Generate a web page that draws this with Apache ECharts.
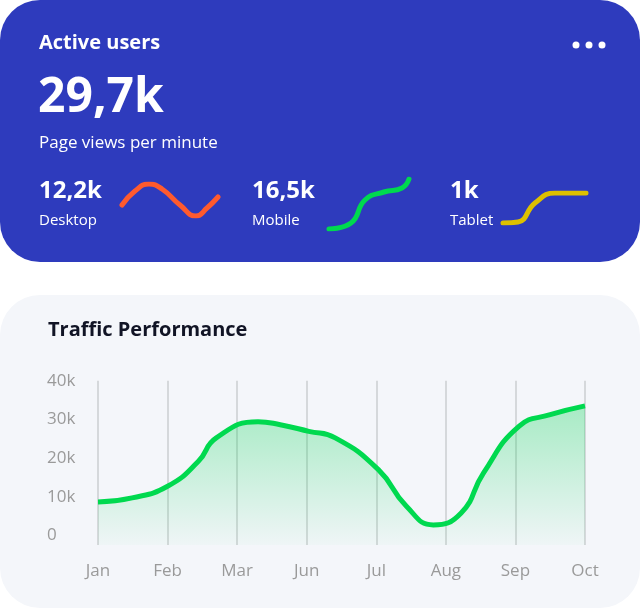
<!DOCTYPE html>
<html>
<head>
<meta charset="utf-8">
<script src="https://cdn.jsdelivr.net/npm/echarts@6/dist/echarts.min.js"></script>
<style>
  html, body { margin: 0; padding: 0; background: #fff; }
  #main { width: 640px; height: 608px; }
</style>
</head>
<body>
<div id="main"></div>
<script>
// month labels on the traffic chart
const months = ["Jan", "Feb", "Mar", "Jun", "Jul", "Aug", "Sep", "Oct"];

// traffic curve: [month index, value]
const traffic = [
  [0, 8600], [0.49, 9700], [1, 12700], [1.44, 19100], [1.7, 25200],
  [2.3, 29400], [2.62, 28600], [3.03, 26900], [3.41, 25200], [4.03, 17000],
  [4.43, 7600], [4.82, 2700], [5.22, 5800], [5.54, 16100], [6.05, 28200],
  [6.5, 31200], [7, 33500]
];

// sparklines (x, y measured downwards)
const desktopLine = [[122, 205], [135, 191], [149, 184], [162, 189], [180, 205], [196, 216], [207, 208], [218, 197]];
const mobileLine = [[329, 229], [351, 223], [365, 200], [384, 192], [402, 188], [409, 179]];
const tabletLine = [[503, 223], [518, 222], [535, 203], [555, 193], [586, 193]];

const font = "Open Sans";

const sparkAxes = (pts, idx) => {
  const xs = pts.map(p => p[0]), ys = pts.map(p => p[1]);
  return {
    x: { type: "value", gridIndex: idx, min: Math.min(...xs), max: Math.max(...xs), show: false },
    y: { type: "value", gridIndex: idx, min: Math.min(...ys), max: Math.max(...ys), inverse: true, show: false },
    grid: { left: Math.min(...xs), top: Math.min(...ys), width: Math.max(...xs) - Math.min(...xs), height: Math.max(...ys) - Math.min(...ys) }
  };
};
const sparks = [desktopLine, mobileLine, tabletLine].map((p, i) => sparkAxes(p, i + 1));

const chart = echarts.init(document.getElementById("main"));

const txt = (x, y, text, size, weight, fill) => ({
  type: "text", left: x, top: y,
  style: { text, fontSize: size, fontWeight: weight, fill, fontFamily: font }
});

chart.setOption({
  animation: false,
  graphic: [
    { type: "rect", shape: { x: 0, y: 0, width: 640, height: 262, r: 40 }, style: { fill: "#2E3BBD" }, z: -10 },
    { type: "rect", shape: { x: 0, y: 295, width: 640, height: 313, r: 40 }, style: { fill: "#F4F6FA" }, z: -10 },
    txt(39, 33, "Active users", 20, "bold", "#fff"),
    txt(38, 74, "29,7k", 48, "bold", "#fff"),
    txt(39, 135, "Page views per minute", 17, "normal", "#fff"),
    txt(39, 179, "12,2k", 24, "bold", "#fff"),
    txt(39, 213, "Desktop", 15, "normal", "#fff"),
    txt(252, 179, "16,5k", 24, "bold", "#fff"),
    txt(252, 213, "Mobile", 15, "normal", "#fff"),
    txt(450, 179, "1k", 24, "bold", "#fff"),
    txt(450, 213, "Tablet", 15, "normal", "#fff"),
    { type: "circle", shape: { cx: 576, cy: 45, r: 3.5 }, style: { fill: "#fff" } },
    { type: "circle", shape: { cx: 589, cy: 45, r: 3.5 }, style: { fill: "#fff" } },
    { type: "circle", shape: { cx: 602, cy: 45, r: 3.5 }, style: { fill: "#fff" } },
    txt(48, 320, "Traffic Performance", 20, "bold", "#111425")
  ],
  grid: [
    { left: 98, right: 55, top: 380.7, bottom: 63 },
    ...sparks.map(s => s.grid)
  ],
  xAxis: [
    {
      type: "value", min: 0, max: 7, interval: 1,
      axisLine: { show: false }, axisTick: { show: false },
      splitLine: { show: true, lineStyle: { color: "#D5D8DB", width: 2 } },
      axisLabel: { formatter: v => months[v] || "", color: "#9A9A9A", fontSize: 17, fontFamily: font, margin: 18 }
    },
    ...sparks.map(s => s.x)
  ],
  yAxis: [
    {
      type: "value", min: -2500, max: 40000, interval: 2500,
      axisLine: { show: false }, axisTick: { show: false }, splitLine: { show: false },
      axisLabel: {
        formatter: v => (v >= 0 && v % 10000 === 0 ? (v === 0 ? "0" : v / 1000 + "k") : ""),
        color: "#9A9A9A", fontSize: 17, fontFamily: font, align: "left", margin: 51
      }
    },
    ...sparks.map(s => s.y)
  ],
  series: [
    {
      type: "line", data: traffic, smooth: 0.5, symbol: "none",
      lineStyle: { color: "#00D94F", width: 5 },
      areaStyle: {
        origin: "start",
        color: new echarts.graphic.LinearGradient(0, 0, 0, 1, [
          { offset: 0, color: "rgba(0,210,80,0.45)" },
          { offset: 1, color: "rgba(0,210,80,0.03)" }
        ])
      }
    },
    ...[[desktopLine, "#FF5A2E"], [mobileLine, "#00D94F"], [tabletLine, "#DDC000"]].map(([d, c], i) => ({
      type: "line", xAxisIndex: i + 1, yAxisIndex: i + 1, data: d, smooth: 0.5, symbol: "none",
      lineStyle: { color: c, width: 5, cap: "round" }
    }))
  ]
});
</script>
</body>
</html>
